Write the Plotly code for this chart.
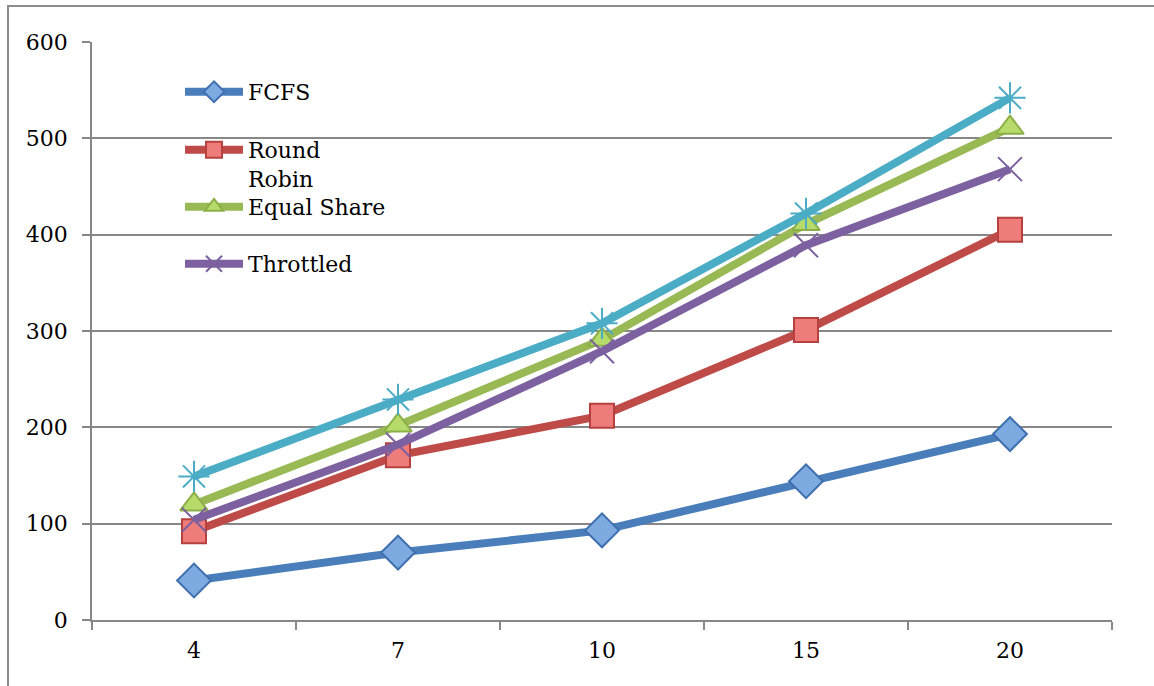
import plotly.graph_objects as go

# Number of clients on the x axis (categorical)
categories = ["4", "7", "10", "15", "20"]

# Series values
fcfs = [41, 70, 93, 144, 193]
round_robin = [92, 171, 212, 301, 405]
equal_share = [120, 202, 291, 411, 511]
throttled = [104, 182, 279, 389, 468]
fifth = [149, 229, 308, 422, 542]

y_ticks = [0, 100, 200, 300, 400, 500, 600]

FONT = "DejaVu Serif"
GRID = "#878787"

fig = go.Figure()

series = [
    ("FCFS", fcfs, "#4A7EBB", "diamond", "#7EAAE2", "#3F6FAE", "legend"),
    ("Round<br>Robin", round_robin, "#BE4B48", "square", "#EE7C7A", "#B5403D", "legend2"),
    ("Equal Share", equal_share, "#98B954", "triangle-up", "#B6DB6B", "#8CAF48", "legend3"),
    ("Throttled", throttled, "#7D60A0", "x-thin-open", "#7D60A0", "#7D60A0", "legend4"),
]

sizes = {"diamond": 26, "square": 24, "triangle-up": 24, "x-thin-open": 24}

for name, vals, lc, sym, fill, edge, leg in series:
    fig.add_trace(go.Scatter(
        x=categories, y=vals, mode="lines+markers", name=name,
        legend=leg, legendgroup=name,
        line=dict(color=lc, width=8),
        marker=dict(symbol=sym, size=sizes[sym], color=fill,
                    line=dict(color=edge, width=2)),
    ))

# Fifth series, drawn last; it has no legend entry
fig.add_trace(go.Scatter(
    x=categories, y=fifth, mode="lines+markers", showlegend=False,
    line=dict(color="#4BACC6", width=8),
    marker=dict(symbol="asterisk-open", size=26, color="#4BACC6",
                line=dict(color="#4BACC6", width=2)),
))

H0, H1 = 620, 42  # pixel rows of the y range ends
PX0, PX1 = 92, 1112


def py(p):
    return (H0 - p) / (H0 - H1)


def px(p):
    return (p - PX0) / (PX1 - PX0)


legend_base = dict(
    font=dict(family=FONT, size=22, color="#000000"),
    bgcolor="rgba(0,0,0,0)", borderwidth=0, itemwidth=58,
    x=px(180), xanchor="left", valign="top",
)

fig.update_layout(
    width=1154, height=686,
    margin=dict(l=92, r=42, t=42, b=66),
    paper_bgcolor="white", plot_bgcolor="white",
    font=dict(family=FONT, size=22, color="#000000"),
    legend=dict(**legend_base, y=py(92), yanchor="middle"),
    legend2=dict(**legend_base, y=py(164.5), yanchor="middle"),
    legend3=dict(**legend_base, y=py(207), yanchor="middle"),
    legend4=dict(**legend_base, y=py(264), yanchor="middle"),
    xaxis=dict(
        type="category", range=[-0.5, 4.5],
        tickson="boundaries", ticks="outside", ticklen=8, tickwidth=1.5,
        tickcolor=GRID, showline=True, linecolor=GRID, linewidth=1.5,
        showgrid=False, ticklabelstandoff=10,
        tickfont=dict(family=FONT, size=22),
    ),
    yaxis=dict(
        range=[0, 600], tickvals=y_ticks, ticks="outside", ticklen=8,
        tickwidth=1.5, tickcolor=GRID, showline=True, linecolor=GRID,
        linewidth=1.5, showgrid=True, gridcolor=GRID, gridwidth=1.5,
        zeroline=False, ticklabelstandoff=10,
        tickfont=dict(family=FONT, size=22),
    ),
    shapes=[dict(
        type="rect", xref="paper", yref="paper",
        x0=px(8), x1=px(1300), y0=py(760), y1=py(6),
        line=dict(color="#8C8C8C", width=2), fillcolor="rgba(0,0,0,0)",
        layer="below",
    )],
)

fig.write_html("out.html")
